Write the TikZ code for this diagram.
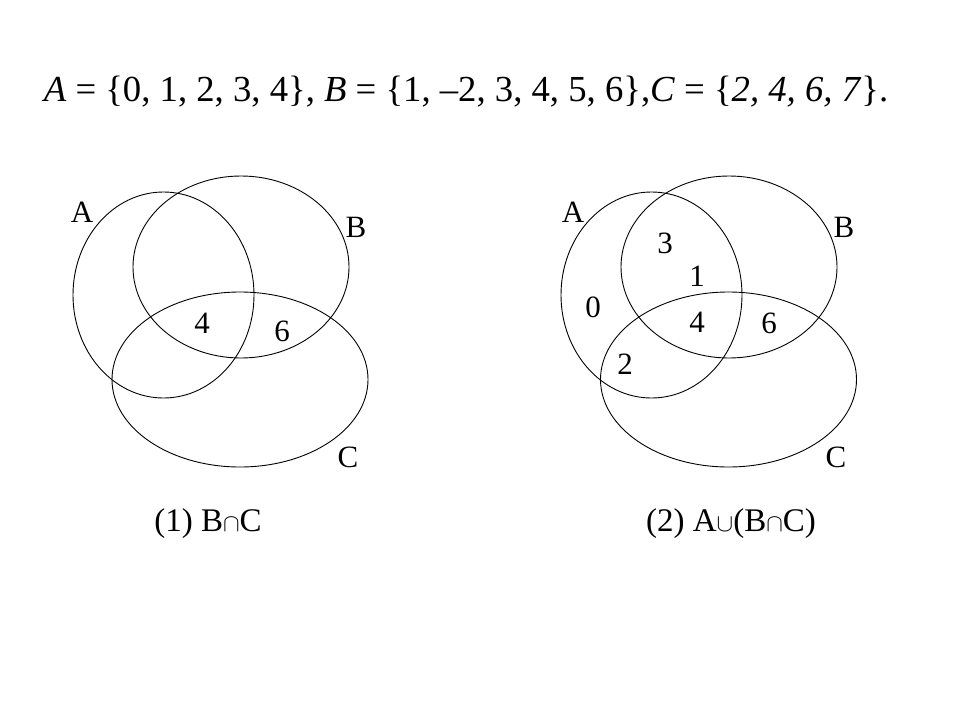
\documentclass[tikz,border=0pt]{standalone}
\usepackage{fontspec}
\setmainfont{Liberation Serif}
\usetikzlibrary{shapes.geometric}
\tikzset{  venn/.style={draw,ellipse,line width=0.9pt,inner sep=0pt} }
\tikzset{  lbl/.style={inner sep=0pt,font=\fontsize{31}{36}\selectfont} }
\tikzset{  caption/.style={inner sep=0pt,font=\fontsize{33}{38}\selectfont} }

\begin{document}
\begin{tikzpicture}[x=1pt,y=-1pt]
   \useasboundingbox (0,0) rectangle (960,720);
   \node[inner sep=0pt,font=\fontsize{36.7}{42}\selectfont] (title) at (466,92)
     {\textit{A} = \{0, 1, 2, 3, 4\}, \textit{B} = \{1, –2, 3, 4, 5, 6\},\textit{C} = \{\textit{2, 4, 6, 7}\}.};
   % (1) B cap C
   \node[venn,minimum width=181pt,minimum height=206pt] (a1) at (163.5,295) {};
   \node[venn,minimum width=216pt,minimum height=182pt] (b1) at (241,267) {};
   \node[venn,minimum width=256pt,minimum height=175pt] (c1) at (240,379.5) {};
   \node[lbl] (na1) at (82,212) {A};
   \node[lbl] (nb1) at (356,227) {B};
   \node[lbl] (nc1) at (348,457) {C};
   \node[lbl] (x41) at (202,323) {4};
   \node[lbl] (x61) at (282,331) {6};
   \node[caption] (cap1) at (208,524) {(1) B$\cap$C};
   % (2) A cup (B cap C)
   \node[venn,minimum width=181pt,minimum height=206pt] (a2) at (651.5,295) {};
   \node[venn,minimum width=216pt,minimum height=182pt] (b2) at (729,267) {};
   \node[venn,minimum width=256pt,minimum height=175pt] (c2) at (728.5,379.5) {};
   \node[lbl] (na2) at (573,212) {A};
   \node[lbl] (nb2) at (844,227) {B};
   \node[lbl] (nc2) at (836,457) {C};
   \node[lbl] (x32) at (665,243) {3};
   \node[lbl] (x12) at (697,276) {1};
   \node[lbl] (x02) at (593,307) {0};
   \node[lbl] (x42) at (697,322) {4};
   \node[lbl] (x62) at (769,323) {6};
   \node[lbl] (x22) at (625,364) {2};
   \node[caption] (cap2) at (731,524) {(2) A$\cup$(B$\cap$C)};
  \end{tikzpicture}
\end{document}
